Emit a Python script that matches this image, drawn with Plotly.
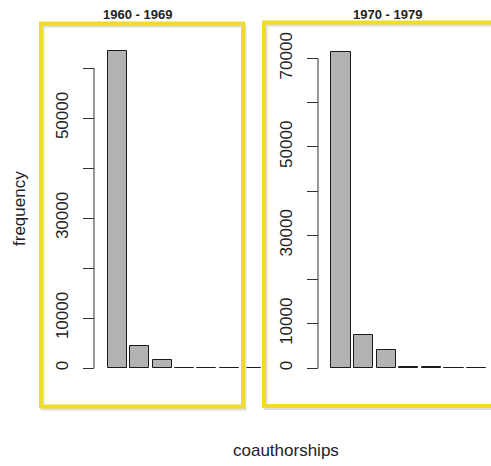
import plotly.graph_objects as go

W, H = 491, 466

# ---- data ----
bins = [1, 2, 3, 4, 5, 6, 7]
freq_1960s = [63400, 4400, 1600, 40, 20, 10, 5]
freq_1970s = [71500, 7400, 4000, 300, 250, 40, 20]
titles = ["1960 - 1969", "1970 - 1979"]
ticks_1960s = [0, 10000, 20000, 30000, 40000, 50000, 60000]
ticklabels_1960s = ["0", "10000", "", "30000", "", "50000", ""]
ticks_1970s = [0, 10000, 20000, 30000, 40000, 50000, 60000, 70000]
ticklabels_1970s = ["0", "10000", "", "30000", "", "50000", "", "70000"]
x_label = "coauthorships"
y_label = "frequency"


def px(x):
    return x / W


def py(y):
    return 1 - y / H


FONT = "Liberation Sans, Arial, sans-serif"
BAR_FILL = "#b3b3b3"
BAR_LINE = "#1a1a1a"
AX = "#333333"
YEL = "#f0dc23"

fig = go.Figure()
fig.add_trace(go.Bar(x=bins, y=freq_1960s, width=0.85, xaxis="x", yaxis="y",
                     marker=dict(color=BAR_FILL, line=dict(color=BAR_LINE, width=1)),
                     showlegend=False, hoverinfo="skip"))
fig.add_trace(go.Bar(x=bins, y=freq_1970s, width=0.85, xaxis="x2", yaxis="y2",
                     marker=dict(color=BAR_FILL, line=dict(color=BAR_LINE, width=1)),
                     showlegend=False, hoverinfo="skip"))

# pixel geometry
y_bottom_px, y_top_px, zero_px = 372, 30, 368
s1 = 10000 / 50.0      # units per px (left)
s2 = 10000 / 44.24     # units per px (right)

yaxis_common = dict(showgrid=False, zeroline=False, showline=False, ticks="outside",
                    ticklen=11, tickwidth=1, tickcolor=AX, tickangle=-90,
                    tickfont=dict(family=FONT, size=17, color="#222"),
                    anchor="free", ticklabelstandoff=8)

fig.update_layout(
    width=W, height=H, margin=dict(l=0, r=0, t=0, b=0),
    paper_bgcolor="white", plot_bgcolor="rgba(0,0,0,0)",
    bargap=0,
    xaxis=dict(domain=[px(94), px(270)], range=[-0.04, 7.817], visible=False),
    xaxis2=dict(domain=[px(318), px(491)], range=[-0.018, 7.637], visible=False),
    yaxis=dict(domain=[py(y_bottom_px), py(y_top_px)],
               range=[-(y_bottom_px - zero_px) * s1, (zero_px - y_top_px) * s1],
               tickvals=ticks_1960s, ticktext=ticklabels_1960s,
               position=px(94), **yaxis_common),
    yaxis2=dict(domain=[py(y_bottom_px), py(y_top_px)],
                range=[-(y_bottom_px - zero_px) * s2, (zero_px - y_top_px) * s2],
                tickvals=ticks_1970s, ticktext=ticklabels_1970s,
                position=px(318), **yaxis_common),
)

shapes = []
# axis lines spanning first to last tick
shapes.append(dict(type="line", xref="paper", yref="y", x0=px(94), x1=px(94),
                   y0=ticks_1960s[0], y1=ticks_1960s[-1], line=dict(color=AX, width=1)))
shapes.append(dict(type="line", xref="paper", yref="y2", x0=px(318), x1=px(318),
                   y0=ticks_1970s[0], y1=ticks_1970s[-1], line=dict(color=AX, width=1)))
# yellow frames with faint shadow
for (x0, x1, y0, y1) in [(41, 243, 23.5, 406.5), (264, 496, 22.5, 406)]:
    shapes.append(dict(type="rect", xref="paper", yref="paper",
                       x0=px(x0 + 1.5), x1=px(x1 + 1.5), y0=py(y1 + 2), y1=py(y0 + 2),
                       line=dict(color="#dddddd", width=4), layer="above"))
    shapes.append(dict(type="rect", xref="paper", yref="paper",
                       x0=px(x0), x1=px(x1), y0=py(y1), y1=py(y0),
                       line=dict(color=YEL, width=4), layer="above"))
fig.update_layout(shapes=shapes)

annotations = [
    dict(text="<b>%s</b>" % titles[0], x=px(137), y=py(14), xref="paper", yref="paper",
         showarrow=False, xanchor="center", yanchor="middle",
         font=dict(family=FONT, size=13, color="#222")),
    dict(text="<b>%s</b>" % titles[1], x=px(387), y=py(14), xref="paper", yref="paper",
         showarrow=False, xanchor="center", yanchor="middle",
         font=dict(family=FONT, size=13, color="#222")),
    dict(text=y_label, x=px(19), y=py(209), xref="paper", yref="paper", textangle=-90,
         showarrow=False, xanchor="center", yanchor="middle",
         font=dict(family=FONT, size=17, color="#222")),
    dict(text=x_label, x=px(286), y=py(450), xref="paper", yref="paper",
         showarrow=False, xanchor="center", yanchor="middle",
         font=dict(family=FONT, size=17, color="#222")),
]
fig.update_layout(annotations=annotations)

fig.write_html("out.html")
